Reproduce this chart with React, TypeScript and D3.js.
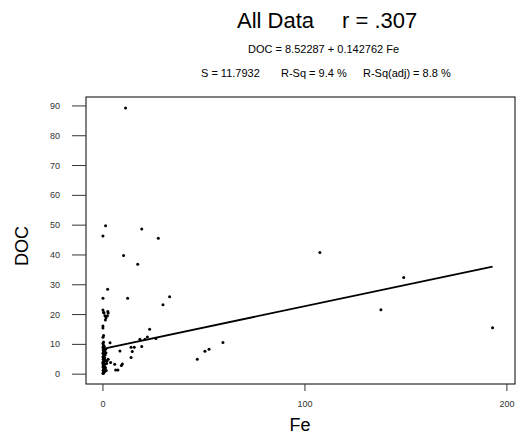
import * as d3 from 'd3';
import React from 'react';

// Fe / DOC pairs
const feValues = [
  11.2, 1.3, 0, 19.2, 27.4, 10.2, 17.2, 2.3, 0, 12.2, 33, 29.7, 107.4, 148.9, 137.6, 192.9, 59.4, 50.5, 52.5, 46.7,
  0, 0.5, 1, 1.5, 2.2, 2.6, 1.2, 0.3, 2.4, 0, 0, 0.3, 0,
  3.5, 8.4, 13.9, 15.5, 18.3, 20.8, 19.2, 22, 26.2, 23.1, 14.5, 13.9, 5.8, 9.6, 9.1, 7.4, 2.6, 6.3, 1, 3.8,
  0, 0.2, 0.5, 0.1, 0.8, 0.3, 1.2, 0, 0.6, 0.2, 1, 0.4, 0, 0.7, 1.4, 0.1, 0.5, 0.9, 0, 0.3, 1.1, 0.6, 0, 0.2,
  0.8, 0.1, 0.4, 0, 0.6, 0.2, 0, 0.3, 1.6, 1.8, 1.5, 2.0, 0.4, 0.9, 0.2, 0.7, 1.3, 0, 0.5,
];
const docValues = [
  89.3, 49.8, 46.4, 48.7, 45.6, 39.8, 36.9, 28.5, 25.5, 25.5, 26, 23.3, 40.8, 32.4, 21.6, 15.6, 10.6, 7.7, 8.4, 5,
  21.5, 20.5, 19.6, 18.9, 19.6, 20.5, 18.2, 20.8, 21, 16.2, 15.5, 13, 12.4,
  10.5, 7.8, 9, 9, 11.7, 11.7, 9.3, 12.5, 12, 15.1, 7.6, 5.6, 3.3, 3.4, 2.9, 1.4, 5, 1.4, 2, 3.9,
  0.2, 0.6, 1, 1.3, 1.6, 2, 2.2, 2.5, 2.8, 3.1, 3.4, 3.7, 4, 4.3, 4.6, 4.9, 5.2, 5.5, 5.8, 6.1, 6.4, 6.7, 7, 7.4,
  7.8, 8.2, 8.6, 9, 9.4, 9.8, 10.3, 10.8, 1.2, 3.6, 7.2, 4.4, 0.4, 0.9, 5.5, 2.4, 8.4, 3.5, 7.6,
];

const yTicks = [0, 10, 20, 30, 40, 50, 60, 70, 80, 90];
const xTicks = [0, 100, 200];

const intercept = 8.52287;
const slope = 0.142762;

const font = '"Liberation Sans", Arial, sans-serif';

export default function App() {
  const x = d3.scaleLinear().domain([-8.4, 204]).range([86, 515]);
  const y = d3.scaleLinear().domain([-3.3, 93]).range([384, 97]);

  const points = feValues.map((fe, i) => ({ fe, doc: docValues[i] }));
  const maxFe = d3.max(feValues) as number;
  const fitLine = d3
    .line<number>()
    .x((d) => x(d))
    .y((d) => y(intercept + slope * d))([0, maxFe]);

  return (
    <svg
      width={522}
      height={441}
      style={{ position: 'absolute', left: 0, top: 0, background: '#fff' }}
      fontFamily={font}
    >
      {/* titles */}
      <text x={237} y={27.5} fontSize={22}>All Data</text>
      <text x={342} y={27.5} fontSize={22}>r = .307</text>
      <text x={248} y={53} fontSize={11}>DOC = 8.52287 + 0.142762 Fe</text>
      <text x={201} y={77} fontSize={11}>S = 11.7932</text>
      <text x={281} y={77} fontSize={11}>R-Sq = 9.4 %</text>
      <text x={363} y={77} fontSize={11}>R-Sq(adj) = 8.8 %</text>

      {/* frame */}
      <rect x={86} y={97} width={429} height={287} fill="none" stroke="#000" strokeWidth={1} />

      {/* y axis */}
      {yTicks.map((t) => (
        <g key={'y' + t}>
          <line x1={72} x2={86} y1={y(t)} y2={y(t)} stroke="#333" />
          <text x={60} y={y(t) + 3} fontSize={9} fill="#333" textAnchor="end">{t}</text>
        </g>
      ))}
      {/* x axis */}
      {xTicks.map((t) => (
        <g key={'x' + t}>
          <line x1={x(t)} x2={x(t)} y1={384} y2={391} stroke="#333" />
          <text x={x(t)} y={407} fontSize={9} fill="#333" textAnchor="middle">{t}</text>
        </g>
      ))}

      <text x={300} y={431} fontSize={18} textAnchor="middle">Fe</text>
      <text transform="translate(28,246) rotate(-90)" fontSize={18} textAnchor="middle">DOC</text>

      {/* regression line */}
      <path d={fitLine ?? ''} fill="none" stroke="#000" strokeWidth={1.8} />

      {/* points */}
      {points.map((p, i) => (
        <circle key={i} cx={x(p.fe)} cy={y(p.doc)} r={1.5} fill="#000" />
      ))}
    </svg>
  );
}
